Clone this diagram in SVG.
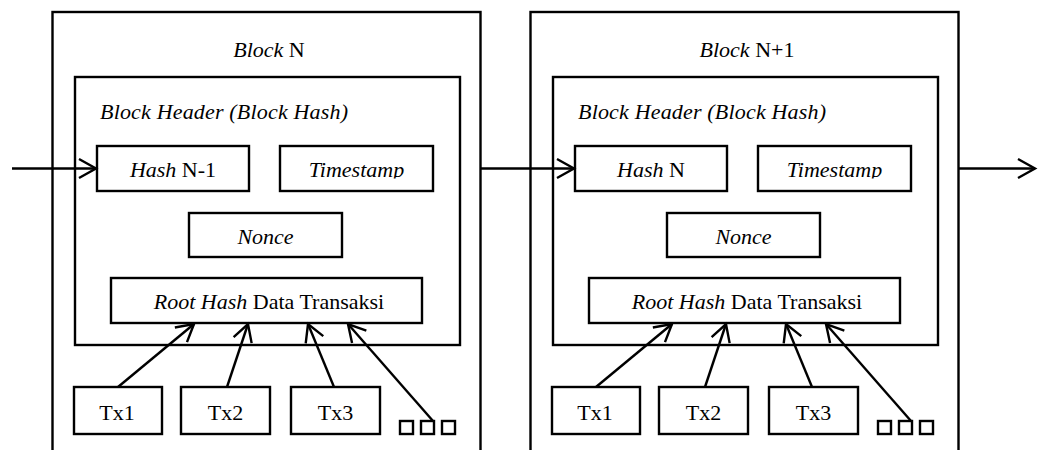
<svg xmlns="http://www.w3.org/2000/svg" width="1038" height="450" viewBox="0 0 1038 450">
  <style>
    .box { fill: #ffffff; stroke: #000000; stroke-width: 2.4; }
    .frame { fill: none; stroke: #000000; stroke-width: 2.4; }
    .txt { font-family: "Liberation Serif", "Times New Roman", serif; font-size: 22px; fill: #000000; }
    .it { font-style: italic; }
    .mid { text-anchor: middle; }
    .link { fill: none; stroke: #000000; stroke-width: 2.4; }
  </style>
  <defs>
    <marker id="open-arrow" markerUnits="userSpaceOnUse" markerWidth="24" markerHeight="24" refX="0" refY="0" viewBox="-20 -12 24 24" orient="auto" overflow="visible">
      <path d="M-17,-9.5 L0,0 L-17,9.5" fill="none" stroke="#000000" stroke-width="2.4"/>
    </marker>
    <!-- descender of "Timestamp" is cut at the box's text line -->
    <clipPath id="cut-descender" clipPathUnits="userSpaceOnUse">
      <rect x="0" y="0" width="1038" height="178.5"/>
    </clipPath>
  </defs>

  <rect x="0" y="0" width="1038" height="450" fill="#ffffff"/>

  <!-- Block N -->
  <g id="block-n">
    <rect class="frame" x="52.5" y="12" width="428" height="460"/>
    <text class="txt mid" x="269" y="57"><tspan class="it">Block</tspan> N</text>
  </g>
  <g id="header-n">
    <rect class="frame" x="75" y="77" width="385" height="268"/>
    <text class="txt it" x="100" y="119" textLength="248" lengthAdjust="spacing">Block Header (Block Hash)</text>
  </g>
  <g id="prevhash-n">
    <rect class="box" x="97" y="146" width="152" height="45"/>
    <text class="txt mid" x="173" y="177"><tspan class="it">Hash</tspan> N-1</text>
  </g>
  <g id="timestamp-n">
    <rect class="box" x="280" y="146" width="153" height="45"/>
    <text class="txt it mid" x="356.5" y="177" clip-path="url(#cut-descender)">Timestamp</text>
  </g>
  <g id="nonce-n">
    <rect class="box" x="189" y="213" width="153" height="44"/>
    <text class="txt it mid" x="265.5" y="244">Nonce</text>
  </g>
  <g id="root-n">
    <rect class="box" x="111" y="278" width="311" height="45"/>
    <text class="txt mid" x="269" y="309"><tspan class="it">Root Hash</tspan> Data Transaksi</text>
  </g>
  <g id="tx1-n">
    <rect class="box" x="74" y="387" width="88" height="47"/>
    <text class="txt mid" x="117" y="420">Tx1</text>
  </g>
  <g id="tx2-n">
    <rect class="box" x="181" y="387" width="89" height="47"/>
    <text class="txt mid" x="225.5" y="420">Tx2</text>
  </g>
  <g id="tx3-n">
    <rect class="box" x="291" y="387" width="89" height="47"/>
    <text class="txt mid" x="335.5" y="420">Tx3</text>
  </g>
  <g id="more-n">
    <rect class="box" x="400" y="421" width="13" height="13"/>
    <rect class="box" x="421" y="421" width="13" height="13"/>
    <rect class="box" x="442" y="421" width="13" height="13"/>
  </g>

  <!-- Block N+1 -->
  <g id="block-n1">
    <rect class="frame" x="530.5" y="12" width="428" height="460"/>
    <text class="txt mid" x="747" y="57"><tspan class="it">Block</tspan> N+1</text>
  </g>
  <g id="header-n1">
    <rect class="frame" x="553" y="77" width="385" height="268"/>
    <text class="txt it" x="578" y="119" textLength="248" lengthAdjust="spacing">Block Header (Block Hash)</text>
  </g>
  <g id="prevhash-n1">
    <rect class="box" x="575" y="146" width="152" height="45"/>
    <text class="txt mid" x="651" y="177"><tspan class="it">Hash</tspan> N</text>
  </g>
  <g id="timestamp-n1">
    <rect class="box" x="758" y="146" width="153" height="45"/>
    <text class="txt it mid" x="834.5" y="177" clip-path="url(#cut-descender)">Timestamp</text>
  </g>
  <g id="nonce-n1">
    <rect class="box" x="667" y="213" width="153" height="44"/>
    <text class="txt it mid" x="743.5" y="244">Nonce</text>
  </g>
  <g id="root-n1">
    <rect class="box" x="589" y="278" width="311" height="45"/>
    <text class="txt mid" x="747" y="309"><tspan class="it">Root Hash</tspan> Data Transaksi</text>
  </g>
  <g id="tx1-n1">
    <rect class="box" x="552" y="387" width="88" height="47"/>
    <text class="txt mid" x="595" y="420">Tx1</text>
  </g>
  <g id="tx2-n1">
    <rect class="box" x="659" y="387" width="89" height="47"/>
    <text class="txt mid" x="703.5" y="420">Tx2</text>
  </g>
  <g id="tx3-n1">
    <rect class="box" x="769" y="387" width="89" height="47"/>
    <text class="txt mid" x="813.5" y="420">Tx3</text>
  </g>
  <g id="more-n1">
    <rect class="box" x="878" y="421" width="13" height="13"/>
    <rect class="box" x="899" y="421" width="13" height="13"/>
    <rect class="box" x="920" y="421" width="13" height="13"/>
  </g>

  <!-- connectors -->
  <g id="connectors" class="link" marker-end="url(#open-arrow)">
    <line x1="12" y1="168.5" x2="96" y2="168.5"/>
    <line x1="481" y1="168.5" x2="574" y2="168.5"/>
    <line x1="959" y1="168.5" x2="1035" y2="168.5"/>

    <line x1="118" y1="387" x2="194" y2="324"/>
    <line x1="227" y1="387" x2="248" y2="324"/>
    <line x1="334" y1="387" x2="308" y2="324"/>
    <line x1="433" y1="421" x2="348" y2="324"/>

    <line x1="596" y1="387" x2="672" y2="324"/>
    <line x1="705" y1="387" x2="726" y2="324"/>
    <line x1="812" y1="387" x2="786" y2="324"/>
    <line x1="911" y1="421" x2="826" y2="324"/>
  </g>
</svg>
